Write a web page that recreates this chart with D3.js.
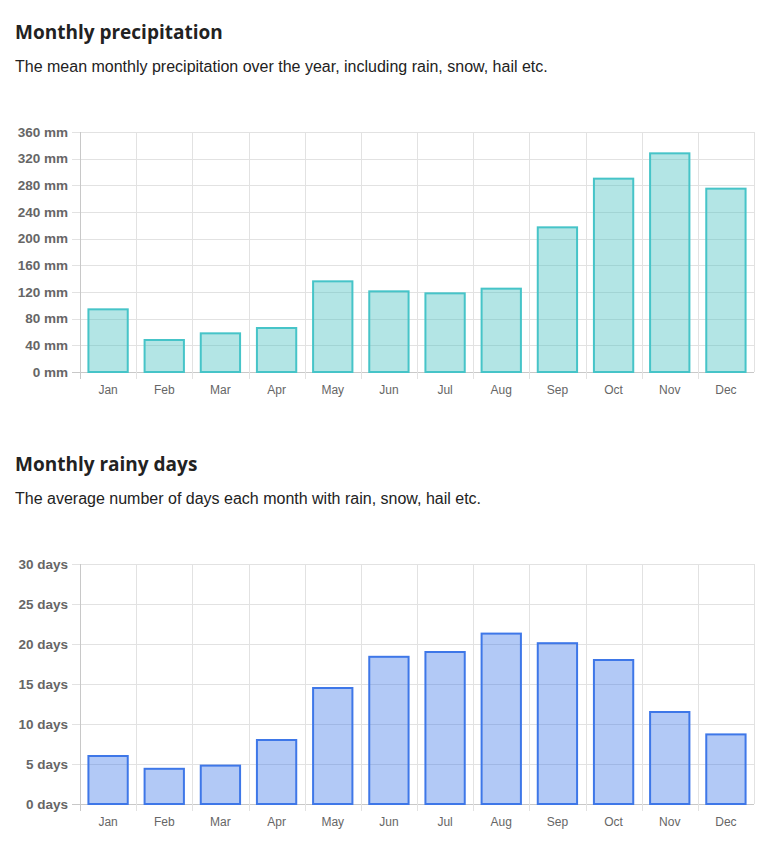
<!DOCTYPE html>
<html>
<head>
<meta charset="utf-8">
<script src="https://cdn.jsdelivr.net/npm/d3@7"></script>
<style>
  body { margin: 0; background: #fff; }
  svg { display: block; }
</style>
</head>
<body>
<script>
'use strict';

// month labels shared by both charts
let months = ["Jan", "Feb", "Mar", "Apr", "May", "Jun", "Jul", "Aug", "Sep", "Oct", "Nov", "Dec"];

// mean monthly precipitation (mm)
let precipitation = [94, 48, 58, 66, 136, 121, 118, 125, 217, 290, 328, 275];
let precipTicks = [0, 40, 80, 120, 160, 200, 240, 280, 320, 360];

// average rainy days per month
let rainyDays = [6, 4.4, 4.8, 8, 14.5, 18.4, 19, 21.3, 20.1, 18, 11.5, 8.7];
let dayTicks = [0, 5, 10, 15, 20, 25, 30];

let svgContainer = d3.select('body')
  .append('svg')
  .attr('width', 773)
  .attr('height', 845);

// draw a heading + subtitle
function makeLabels(title, subtitle, y) {
  svgContainer.append('text')
    .attr('x', 15)
    .attr('y', y)
    .style('font-family', '"Open Sans", "Noto Sans", sans-serif')
    .style('font-weight', 'bold')
    .style('font-size', '19px')
    .style('fill', '#222')
    .text(title);

  svgContainer.append('text')
    .attr('x', 15)
    .attr('y', y + 33)
    .style('font-family', '"Liberation Sans", Arial, sans-serif')
    .style('font-size', '16px')
    .style('fill', '#222')
    .text(subtitle);
}

// draw one bar chart inside the box
function makeBarChart(values, ticks, unit, top, bottom, fill, stroke) {
  let left = 80, right = 754;

  let xScale = d3.scaleBand()
    .domain(months)
    .range([left, right]);

  let yScale = d3.scaleLinear()
    .domain([0, d3.max(ticks)])
    .range([bottom, top]);

  let g = svgContainer.append('g');

  // horizontal gridlines
  g.selectAll('.hgrid')
    .data(ticks)
    .enter()
    .append('line')
      .attr('x1', left - 8)
      .attr('x2', right)
      .attr('y1', d => Math.round(yScale(d)) + 0.5)
      .attr('y2', d => Math.round(yScale(d)) + 0.5)
      .attr('stroke', d => d === 0 ? '#c8c8c8' : '#e2e2e2')
      .attr('stroke-width', 1);

  // vertical gridlines (category boundaries)
  let bounds = months.map(m => xScale(m)).concat([right]);
  g.selectAll('.vgrid')
    .data(bounds)
    .enter()
    .append('line')
      .attr('x1', d => Math.round(d) + 0.5)
      .attr('x2', d => Math.round(d) + 0.5)
      .attr('y1', top)
      .attr('y2', (d, i) => i === bounds.length - 1 ? bottom : bottom + 7)
      .attr('stroke', (d, i) => i === 0 ? '#c8c8c8' : '#e2e2e2')
      .attr('stroke-width', 1);

  // y tick labels
  g.selectAll('.ylabel')
    .data(ticks)
    .enter()
    .append('text')
      .attr('x', left - 12)
      .attr('y', d => yScale(d))
      .attr('dy', '0.35em')
      .attr('text-anchor', 'end')
      .style('font-family', '"Liberation Sans", Arial, sans-serif')
      .style('font-weight', 'bold')
      .style('font-size', '13.5px')
      .style('fill', '#666')
      .text(d => d + ' ' + unit);

  // x tick labels
  g.selectAll('.xlabel')
    .data(months)
    .enter()
    .append('text')
      .attr('x', d => xScale(d) + xScale.bandwidth() / 2)
      .attr('y', bottom + 22)
      .attr('text-anchor', 'middle')
      .style('font-family', '"Liberation Sans", Arial, sans-serif')
      .style('font-size', '12px')
      .style('fill', '#666')
      .text(d => d);

  // bars, 70% of the category width
  let barW = xScale.bandwidth() * 0.7;
  g.selectAll('.bar')
    .data(values)
    .enter()
    .append('rect')
      .attr('x', (d, i) => xScale(months[i]) + (xScale.bandwidth() - barW) / 2)
      .attr('y', d => yScale(d))
      .attr('width', barW)
      .attr('height', d => bottom - yScale(d))
      .attr('fill', fill)
      .attr('stroke', stroke)
      .attr('stroke-width', 2);
}

makeLabels("Monthly precipitation",
  "The mean monthly precipitation over the year, including rain, snow, hail etc.", 39);
makeBarChart(precipitation, precipTicks, 'mm', 132, 372,
  'rgba(75, 192, 192, 0.42)', 'rgb(70, 196, 200)');

makeLabels("Monthly rainy days",
  "The average number of days each month with rain, snow, hail etc.", 471);
makeBarChart(rainyDays, dayTicks, 'days', 564, 804,
  'rgba(62, 119, 232, 0.4)', 'rgb(62, 119, 232)');
</script>
</body>
</html>
